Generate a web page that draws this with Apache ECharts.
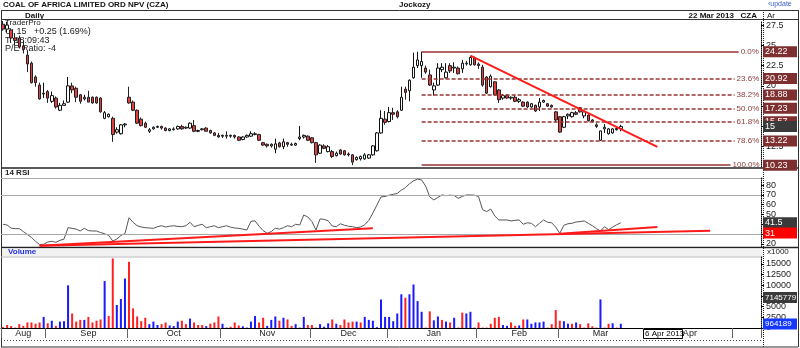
<!DOCTYPE html>
<html><head><meta charset="utf-8">
<script src="https://cdn.jsdelivr.net/npm/echarts@6.0.0/dist/echarts.min.js"></script>
<style>html,body{margin:0;padding:0;background:#fff}#c{width:800px;height:348px}</style>
</head><body><div id="c"></div><script>
// ---- axis labels / calendar ----
const monthNames = ['Aug','Sep','Oct','Nov','Dec','Jan','Feb','Mar','Apr',''];
const monthDays  = [11,20,23,22,19,22,20,21,22,7];
// ---- price data (daily OHLC) ----
const opens = [27.6,27.0,26.9,25.9,25.9,24.9,23.8,22.8,21.1,20.1,19.0,19.3,18.1,18.5,17.0,17.6,18.0,20.0,19.7,18.9,18.4,18.6,18.6,18.6,18.5,16.0,16.2,16.0,14.3,14.1,15.2,18.6,18.0,17.0,15.9,15.4,14.4,14.7,14.9,15.0,14.8,14.5,14.7,14.7,15.0,14.8,14.8,15.1,14.4,14.6,14.8,14.5,14.2,13.9,13.8,13.9,13.8,13.9,13.7,13.4,13.7,13.8,14.1,14.0,13.0,12.8,12.6,12.2,12.97,12.5,13.0,12.8,12.7,13.5,13.7,13.8,13.6,13.0,11.7,12.6,11.9,11.9,11.4,12.1,12.0,11.5,11.5,10.9,11.0,11.0,11.1,11.5,12.0,14.2,15.9,15.6,16.7,16.8,17.0,19.6,19.4,21.0,22.5,22.5,22.2,21.35,19.5,20.1,22.0,21.0,22.5,22.2,22.2,22.1,22.8,22.6,23.45,22.7,22.3,21.1,19.9,20.5,19.5,18.5,18.8,18.5,18.6,18.1,18.0,18.0,17.4,17.6,17.4,18.0,17.8,17.6,16.8,16.2,14.9,16.3,16.2,16.7,17.3,16.3,16.4,15.8,15.2,13.3,14.7,14.1,14.2,14.6,14.75];
const highs = [28.0,27.9,27.1,26.5,26.2,25.6,24.3,23.0,21.3,20.4,20.4,19.5,19.3,18.7,17.9,18.2,21.1,20.4,19.9,19.0,18.9,19.4,18.7,18.7,18.6,16.9,16.6,16.2,14.9,15.3,15.4,19.9,18.2,17.1,16.1,15.6,14.8,15.0,15.1,15.1,14.9,14.8,14.9,15.1,15.2,15.0,15.5,15.8,14.6,14.8,14.9,14.6,14.3,14.2,14.0,14.4,14.0,14.0,13.8,13.8,14.0,14.4,14.3,14.1,13.1,12.9,12.9,13.5,13.1,13.5,13.1,13.0,13.0,15.05,14.0,13.9,13.7,13.1,12.8,12.8,12.7,12.1,11.9,12.2,12.1,11.8,11.6,11.3,11.4,11.7,11.6,12.7,14.3,17.0,16.9,17.4,17.3,17.0,19.9,19.9,20.8,24.1,24.2,24.22,22.5,22.0,20.4,22.8,22.8,22.8,22.8,22.9,22.4,23.2,23.1,23.7,23.6,22.9,22.6,21.2,21.4,20.6,19.6,19.0,19.0,18.7,18.9,18.5,18.1,18.1,17.9,17.7,18.5,18.3,17.9,17.7,16.9,16.3,16.3,16.6,16.8,16.9,17.4,17.0,16.5,15.9,15.4,14.5,15.3,14.8,14.8,15.0,15.2];
const lows = [26.8,26.6,25.3,25.0,24.6,24.0,21.7,20.3,19.9,18.3,18.5,17.9,17.9,17.2,16.9,17.6,17.9,19.1,18.0,17.8,18.2,18.0,17.8,17.8,16.7,15.9,16.1,13.1,14.1,14.0,14.9,17.8,16.9,15.3,15.0,14.8,14.2,14.6,14.8,14.6,14.4,14.4,14.5,14.6,14.6,14.7,14.7,14.3,14.3,14.5,14.4,14.1,13.8,13.6,13.6,13.5,13.6,13.5,13.2,13.3,13.6,13.7,13.9,13.2,12.6,12.4,12.4,11.7,12.4,12.2,12.5,12.6,12.6,13.3,13.5,13.2,12.9,10.5,11.6,12.2,11.8,11.1,11.3,11.5,11.4,11.3,10.23,10.8,10.8,10.9,11.0,11.4,11.9,14.1,15.2,15.5,15.8,16.0,16.9,18.3,18.1,20.9,22.2,21.0,21.5,20.0,18.8,20.0,21.7,20.9,21.6,21.6,21.4,21.6,22.5,22.5,22.5,22.1,19.9,19.0,19.8,18.8,17.9,18.3,18.4,18.3,18.0,17.9,17.4,17.3,17.3,16.8,16.9,17.9,17.4,17.3,15.55,14.2,14.8,15.9,16.1,16.4,16.7,16.0,15.6,15.5,14.8,13.22,14.2,14.0,14.1,14.5,14.4];
const closes = [27.0,27.5,25.9,25.6,24.8,24.5,22.7,20.4,20.4,18.4,19.1,18.5,18.8,17.4,17.6,17.8,20.0,19.5,18.6,18.1,18.6,18.0,17.9,17.9,16.8,16.7,16.5,14.0,14.6,15.2,15.3,17.9,17.0,15.4,15.1,14.9,14.6,14.9,15.0,14.8,14.5,14.7,14.6,15.0,14.7,14.9,15.4,14.4,14.5,14.7,14.4,14.2,13.9,13.7,13.9,13.8,13.9,13.7,13.3,13.7,13.9,14.1,14.0,13.3,12.7,12.6,12.8,12.85,12.5,13.1,12.8,12.7,12.9,13.7,13.9,13.3,13.0,11.5,12.7,12.3,12.5,11.3,11.7,11.6,11.5,11.6,10.6,11.2,11.3,11.5,11.5,12.6,14.2,16.0,15.5,16.7,16.5,16.2,18.6,19.2,20.7,22.3,23.2,23.0,21.7,20.1,20.0,22.2,22.3,21.7,21.85,22.3,21.5,22.8,22.7,23.5,22.6,22.5,20.1,19.1,21.2,18.9,18.3,18.8,18.5,18.6,18.1,18.3,17.5,17.4,17.8,16.9,18.0,18.2,17.5,17.4,15.8,14.3,16.2,16.5,16.7,16.5,16.8,16.8,15.7,15.6,15.0,14.45,14.9,14.7,14.7,14.75,15.0];
// ---- volume (thousands) and day direction (1 = up / blue, 0 = down / red) ----
const volumes = [200,700,450,100,900,500,1300,1300,1000,1300,2600,1100,1700,500,1500,1600,10000,3400,1500,1900,1900,2600,1300,1700,2000,11000,2800,16300,5400,6800,11600,15500,4600,2700,1600,2400,900,1500,700,900,1300,600,450,1500,1700,900,2200,1300,700,700,450,1000,1300,2700,1000,100,300,1300,600,400,100,1500,2800,1300,2400,500,1900,2700,1700,2400,2000,500,900,100,2600,700,700,100,900,300,1100,2000,1000,700,2000,1300,1500,1500,1300,2600,1900,1700,200,6700,2600,2600,1600,3400,7900,7100,7900,10200,6300,3800,100,3900,1800,2700,1900,1500,1300,2400,100,3600,3400,3800,100,1300,100,100,1000,2400,2600,700,500,1300,500,600,2000,2000,1000,1300,1300,1500,100,900,4200,1700,1600,1000,1000,1300,900,100,1100,400,100,6700,100,1000,1100,100,1000];
const volumeUp = [0,0,0,0,0,0,0,0,0,0,1,0,1,0,1,1,1,0,0,0,1,0,0,0,0,1,0,0,1,1,1,0,0,0,0,0,1,1,1,0,0,1,1,1,0,0,1,0,0,0,1,0,0,0,1,1,0,0,0,1,1,1,1,0,0,1,1,1,0,1,0,0,1,1,1,0,0,0,1,1,1,0,1,0,0,0,0,1,0,1,1,1,1,1,1,1,1,1,1,0,1,1,1,1,0,0,1,1,0,1,0,1,0,0,1,1,0,0,0,0,0,0,0,1,1,0,0,1,0,1,1,1,1,1,0,0,0,0,1,1,0,1,0,0,0,0,0,1,0,0,1,0,1];
// ---- 14 RSI ----
const rsi = [40.0,39.2,36,35.5,35.5,32.5,29.5,26.5,22.5,19.2,19.5,21.8,22.5,21.5,23.5,24.8,36.5,35.8,35,33.1,35.8,33.5,33.1,33.1,31.5,30.3,28.5,22.8,24.9,28.5,30.5,46.7,42,38.5,37.2,36.5,36.2,35.8,37.5,38.5,37.2,38.0,38.5,37.8,37.5,38.5,42.0,37.5,38.8,40.0,36.5,37.5,38.5,36.5,37.5,38.5,37,36.2,35.8,35,34.1,43,43.5,38,33.5,30.7,32.5,36,35,36.5,38.5,37.5,40.0,39.2,49.5,47.5,42.7,34.1,45.5,45,43.5,38.2,37.5,40.5,39,38,37.5,36.5,37.2,39.5,44,51.5,59.7,68,68.5,69.8,70.7,71.5,75,77.5,81.5,84.5,86.2,85.4,79,68,64.9,67.5,70,69.3,69.8,69.5,66.6,68.5,70,70,69.8,68.3,55,53,55.6,48.5,44.4,44.4,44.4,43.4,44,44.4,40.0,41.5,41,37.5,41,44.4,42,41.5,37,30.7,39,40.5,41,42.3,42.8,43.4,41,38.5,35.5,33.1,37.5,34.5,37,39.5,41.5];
// ---- Fibonacci retracement and trend lines ----
const fibLevels = [24.22,20.92,18.88,17.23,15.57,13.22,10.23];
const fibLabels = ['0.0%','23.6%','38.2%','50.0%','61.8%','78.6%','100.0%'];
const fibSpan = [103,181];
const priceTrend = [[115,23.72],[161,12.47]];
const rsiTrends = [[[9,18.0],[91,35.8]],[[9,18.0],[174,33.4]],[[137,30.3],[161,37.2]]];
const rsiBands = [70,30];
// ---- axis tick labels and tags ----
const priceTicks = [12.5,15,17.5,20,22.5,25,27.5];
const rsiLabelTicks = [20,50,60,70,80];
const rsiTicks = [20,30,40,50,60,70,80];
const volLabelTicks = [0,2500,5000,10000,12500,15000];
const volTicks = [0,2500,5000,7500,10000,12500,15000];
const lastPrice = 15, lastRsi = 41.5, rsiTrendTag = 31, volAverage = 7145.779, lastVolume = 964.189;

// build category slots
const slots = [], labelAt = {}, startAt = {};
monthNames.forEach((m, k) => {
  const s0 = slots.length;
  startAt[s0] = true;
  labelAt[s0 + Math.floor(monthDays[k] / 2)] = m;
  for (let d = 0; d < monthDays[k]; d++) slots.push((m || 'May') + ' ' + (d + 1));
});

const FONT = 'Liberation Sans, Arial, sans-serif';
const NARROW = 'Liberation Sans Narrow, Liberation Sans, Arial, sans-serif';
const PRICE = [10, 28], RSI = [16.7, 87.4], VOL = [0, 16640];

function tagAxis(gi, range, value, text, bg, fs) {
  return {type:'value', gridIndex:gi, min:range[0], max:range[1], position:'right', z:6,
    axisLine:{show:false}, axisTick:{show:false}, splitLine:{show:false},
    axisLabel:{customValues:[value], formatter:() => text, color:'#fff', backgroundColor:bg,
      padding:[1,0,0,2], width:32, overflow:'none', margin:2, fontSize:fs || 9, fontFamily:NARROW,
      align:'left', lineHeight:10}};
}
function mainAxis(gi, range, labels, ticks) {
  return {type:'value', gridIndex:gi, min:range[0], max:range[1], position:'right', z:4,
    axisLine:{show:true, lineStyle:{color:'#000', type:[1,1]}},
    axisTick:{show:true, customValues:ticks, length:3, lineStyle:{color:'#000'}},
    splitLine:{show:false},
    axisLabel:{customValues:labels, formatter:(v) => String(v), color:'#222', fontSize:9, fontFamily:FONT, margin:5}};
}
const catAxis = (gi, show) => ({type:'category', gridIndex:gi, data:slots, boundaryGap:true,
  axisLine:{show:show, lineStyle:{color:'#000'}},
  axisTick:{show:show, interval:(i) => !!startAt[i], length:10, lineStyle:{color:'#666'}},
  axisLabel:{show:show, interval:(i) => labelAt[i] !== undefined, formatter:(v, i) => labelAt[i] || '',
    color:'#222', fontSize:9, fontFamily:FONT, margin:1},
  splitLine:{show:false}});

const fibLines = fibLevels.map((lv, i) => [
  {coord:[fibSpan[0], lv], lineStyle:{type:(i === 0 || i === fibLevels.length - 1) ? 'solid' : [4,2]},
   label:{formatter:fibLabels[i]}},
  {coord:[fibSpan[1] - Math.max(0, fibLabels[i].length - 4), lv]}]);
const trendLine = [{coord:priceTrend[0], lineStyle:{color:'#ff1a1a', width:2, type:'solid'}, label:{show:false}},
  {coord:priceTrend[1]}];

const option = {
  animation:false,
  grid:[
    {left:1, right:37, top:21, height:146},
    {left:1, right:37, top:178, height:69},
    {left:1, right:37, top:257, height:71}
  ],
  xAxis:[catAxis(0,false), catAxis(1,false), catAxis(2,true)],
  yAxis:[
    mainAxis(0, PRICE, priceTicks, priceTicks),
    tagAxis(0, PRICE, fibLevels[0], fibLevels[0].toFixed(2), '#7e2f2f'),
    tagAxis(0, PRICE, fibLevels[1], fibLevels[1].toFixed(2), '#7e2f2f'),
    tagAxis(0, PRICE, fibLevels[2], fibLevels[2].toFixed(2), '#7e2f2f'),
    tagAxis(0, PRICE, fibLevels[3], fibLevels[3].toFixed(2), '#7e2f2f'),
    tagAxis(0, PRICE, fibLevels[4], fibLevels[4].toFixed(2), '#7e2f2f'),
    tagAxis(0, PRICE, fibLevels[5], fibLevels[5].toFixed(2), '#7e2f2f'),
    tagAxis(0, PRICE, fibLevels[6], fibLevels[6].toFixed(2), '#7e2f2f'),
    tagAxis(0, PRICE, lastPrice, String(lastPrice), '#3a3a3a'),
    mainAxis(1, RSI, rsiLabelTicks, rsiTicks),
    tagAxis(1, RSI, lastRsi, String(lastRsi), '#3a3a3a'),
    tagAxis(1, RSI, rsiTrendTag, String(rsiTrendTag), '#ff0000'),
    mainAxis(2, VOL, volLabelTicks, volTicks),
    tagAxis(2, VOL, volAverage, String(Math.round(volAverage * 1000)), '#3a3a3a', 8),
    tagAxis(2, VOL, lastVolume, String(Math.round(lastVolume * 1000)), '#1438ff', 8)
  ],
  series:[
    {type:'candlestick', xAxisIndex:0, yAxisIndex:0, barWidth:3,
     data:opens.map((o, i) => [o, closes[i], lows[i], highs[i]]),
     itemStyle:{color:'#ffffff', color0:'#e04040', borderColor:'#111', borderColor0:'#222', borderWidth:1},
     markLine:{silent:true, symbol:['none','none'], animation:false,
       lineStyle:{color:'#983434', width:1.5},
       label:{position:'end', color:'#8b3a3a', fontSize:8, fontFamily:FONT, distance:2},
       data:fibLines.concat([trendLine])}},
    {type:'line', xAxisIndex:1, yAxisIndex:9, data:rsi, symbol:'none',
     lineStyle:{color:'#555', width:1},
     markLine:{silent:true, symbol:['none','none'], animation:false, label:{show:false},
       data:rsiBands.map(v => ({yAxis:v, lineStyle:{color:'#a8a8a8', width:1, type:'solid'}}))
         .concat(rsiTrends.map(t => [{coord:t[0], lineStyle:{color:'#ff1a1a', width:2, type:'solid'}}, {coord:t[1]}]))}},
    {type:'bar', xAxisIndex:2, yAxisIndex:12, barWidth:2,
     data:volumes.map((v, i) => ({value:v, itemStyle:{color: volumeUp[i] ? '#1a1aff' : '#ff2020'}}))}
  ],
  graphic:[
    {type:'text', left:3, top:1, style:{text:'COAL OF AFRICA LIMITED ORD NPV (CZA)', font:'bold 8px ' + FONT, fill:'#111'}},
    {type:'text', left:399, top:1, style:{text:'Jockozy', font:'bold 8px ' + FONT, fill:'#111'}},
    {type:'text', left:768, top:1, style:{text:'\u2039update', font:'7px ' + FONT, fill:'#3a5bc8'}},
    {type:'line', shape:{x1:1, y1:10.5, x2:798, y2:10.5}, style:{stroke:'#333', lineWidth:1}},
    {type:'text', left:25, top:12, style:{text:'Daily', font:'bold 8px ' + FONT, fill:'#111'}},
    {type:'text', right:43, top:12, style:{text:'22 Mar 2013   CZA', font:'bold 8px ' + FONT, fill:'#111'}},
    {type:'text', left:767, top:12, style:{text:'Ar', font:'8px ' + FONT, fill:'#111'}},
    {type:'line', shape:{x1:1, y1:19.5, x2:763, y2:19.5}, style:{stroke:'#333', lineWidth:1}},
    {type:'line', shape:{x1:763, y1:19.5, x2:798, y2:19.5}, style:{stroke:'#333', lineWidth:1}},
    {type:'line', shape:{x1:1.5, y1:10, x2:1.5, y2:347}, style:{stroke:'#333', lineWidth:1}},
    {type:'line', shape:{x1:798.5, y1:10, x2:798.5, y2:347}, style:{stroke:'#333', lineWidth:1}},
    {type:'line', shape:{x1:763.5, y1:10, x2:763.5, y2:347}, style:{stroke:'#222', lineWidth:1, lineDash:[1,1]}},
    {type:'text', left:5, top:19, z:0, style:{text:'TraderPro', font:'8px ' + FONT, fill:'#222'}},
    {type:'text', left:5, top:27, z:0, style:{text:'C: 15   +0.25 (1.69%)', font:'9px ' + FONT, fill:'#222'}},
    {type:'text', left:5, top:36, z:0, style:{text:'T: 18:09:43', font:'9px ' + FONT, fill:'#222'}},
    {type:'text', left:5, top:44, z:0, style:{text:'P/E Ratio: -4', font:'9px ' + FONT, fill:'#222'}},
    {type:'line', shape:{x1:1, y1:168, x2:798, y2:168}, style:{stroke:'#222', lineWidth:1.5}},
    {type:'text', left:5, top:169, style:{text:'14 RSI', font:'bold 8px ' + FONT, fill:'#222'}},
    {type:'line', shape:{x1:1, y1:178.5, x2:763, y2:178.5}, style:{stroke:'#aaa', lineWidth:1}},
    {type:'line', shape:{x1:1, y1:247.5, x2:798, y2:247.5}, style:{stroke:'#222', lineWidth:1.5}},
    {type:'rect', shape:{x:2, y:248.5, width:761, height:8}, style:{fill:'#f1f1f1'}},
    {type:'text', left:8, top:248, style:{text:'Volume', font:'bold 8px ' + FONT, fill:'#2030e0'}},
    {type:'line', shape:{x1:1, y1:257, x2:763, y2:257}, style:{stroke:'#bbb', lineWidth:1}},
    {type:'text', left:767, top:248, style:{text:'x1000', font:'8px ' + FONT, fill:'#222'}},
    {type:'line', shape:{x1:1, y1:340.5, x2:763, y2:340.5}, style:{stroke:'#444', lineWidth:1, lineDash:[1,2]}},
    {type:'line', shape:{x1:1, y1:347, x2:798, y2:347}, style:{stroke:'#333', lineWidth:1}},
    {type:'rect', z:10, shape:{x:643.5, y:329.5, width:39, height:9}, style:{fill:'#fff', stroke:'#000', lineWidth:1}},
    {type:'text', z:11, left:645, top:330, style:{text:'6 Apr 2013', font:'8px ' + FONT, fill:'#000'}}
  ]
};
const chart = echarts.init(document.getElementById('c'), null, {renderer:'canvas'});
chart.setOption(option);
</script></body></html>
